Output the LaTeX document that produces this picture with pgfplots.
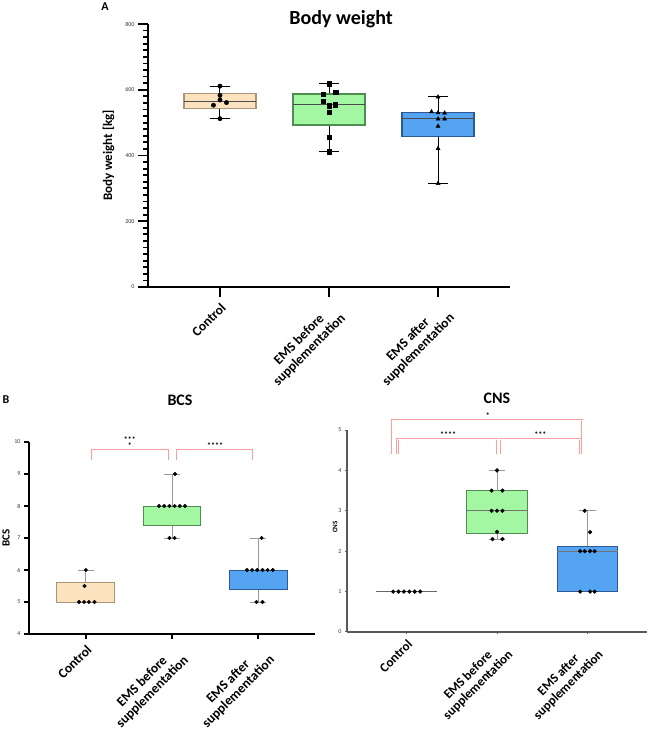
\documentclass[border=0pt]{standalone}
\usepackage{fontspec}
\setmainfont{Carlito}
\usepackage{pgfplots}
\pgfplotsset{compat=1.18}
\usepgfplotslibrary{statistics}

\definecolor{peach}{HTML}{FDE2C0}
\definecolor{peachdark}{HTML}{A89478}
\definecolor{mint}{HTML}{A3F7A3}
\definecolor{mintdark}{HTML}{4E8E4E}
\definecolor{sky}{HTML}{55A4F2}
\definecolor{skydark}{HTML}{2A5A98}
\definecolor{sig}{HTML}{FF9C9C}

\pgfplotsset{
  panel/.style={
    scale only axis, clip=false,
    boxplot/draw direction=y,
    axis x line=bottom, axis y line=left,
    xmin=-0.66, xmax=2.66,
    xtick={0,1,2},
    xticklabels={Control,{EMS before\\supplementation},{EMS after\\supplementation}},
    x tick label style={rotate=45, anchor=north east, align=center,
      font=\fontsize{13.5}{14.5}\selectfont\bfseries},
    tick align=outside,
    /pgf/number format/assume math mode=true,
    y tick label style={font=\fontsize{6}{6}\selectfont, text=black!80},
    ylabel style={font=\fontsize{13}{13}\selectfont\bfseries, anchor=center},
  },
}

\begin{document}
\begin{tikzpicture}
\useasboundingbox (0pt,0pt) rectangle (649pt,735pt);

% ---------------- A: body weight
\node[font=\fontsize{12}{12}\selectfont\bfseries] at (105pt,728pt) {A};
\node[font=\fontsize{20}{20}\selectfont\bfseries] at (341pt,716pt) {Body weight};
\begin{axis}[panel,
  at={(148pt,448pt)}, anchor=south west,
  width=362pt, height=263pt,
  ymin=0, ymax=800,
  ytick={0,200,400,600,800}, minor y tick num=9,
  axis line style={-, line width=2.6pt},
  major tick length=10pt, minor tick length=5pt,
  tick style={black, line width=1.8pt},
  ylabel={Body weight [kg]},
  ylabel style={at={(axis description cs:-0.109,0.5)}},
]
\addplot[boxplot prepared={draw position=0, lower whisker=512, lower quartile=543,
  median=565, upper quartile=588, upper whisker=611, box extend=0.66, whisker extend=0.18,
  every whisker/.style={black, line width=1pt}, every median/.style={black!70, line width=1.2pt}},
  draw=peachdark, fill=peach, line width=1.2pt] coordinates {};
\addplot[boxplot prepared={draw position=1, lower whisker=411, lower quartile=493,
  median=556, upper quartile=587, upper whisker=619, box extend=0.66, whisker extend=0.18,
  every whisker/.style={black, line width=1pt}, every median/.style={black!70, line width=1.2pt}},
  draw=mintdark, fill=mint, line width=1.2pt] coordinates {};
\addplot[boxplot prepared={draw position=2, lower whisker=315, lower quartile=457,
  median=512, upper quartile=531, upper whisker=578, box extend=0.66, whisker extend=0.18,
  every whisker/.style={black, line width=1pt}, every median/.style={black!70, line width=1.2pt}},
  draw=skydark, fill=sky, line width=1.2pt] coordinates {};
\addplot[only marks, mark=*, mark size=2.2pt, black] coordinates {
  (0,611) (0,583) (0,569) (0.06,561) (-0.06,553) (0,512)};
\addplot[only marks, mark=square*, mark size=2.2pt, black] coordinates {
  (1,619) (0.945,587) (1.06,592) (0.945,566) (1,551) (1.055,555) (1,531) (1,455) (1,411)};
\addplot[only marks, mark=triangle*, mark size=2.4pt, black] coordinates {
  (2,578) (1.94,533) (2,530) (2.06,529) (2,511) (2.06,511) (2,489) (2,421) (2,315)};
\end{axis}

% ---------------- B: BCS
\node[font=\fontsize{12}{12}\selectfont\bfseries] at (6pt,335pt) {B};
\node[font=\fontsize{16}{16}\selectfont\bfseries] at (180pt,335pt) {BCS};
\begin{axis}[panel,
  at={(29pt,101pt)}, anchor=south west,
  width=286pt, height=192pt,
  ymin=4, ymax=10, ytick={4,5,6,7,8,9,10},
  axis line style={-, line width=1.8pt},
  major tick length=5pt,
  tick style={black, line width=1.4pt},
  ylabel={BCS},
  ylabel style={at={(axis description cs:-0.08,0.5)}, font=\fontsize{11}{11}\selectfont\bfseries},
]
\addplot[boxplot prepared={draw position=0, lower whisker=5, lower quartile=5,
  median=5, upper quartile=5.62, upper whisker=6, box extend=0.67, whisker extend=0.18,
  every whisker/.style={black!40, line width=0.9pt}, every median/.style={peachdark, line width=1pt}},
  draw=peachdark, fill=peach, line width=1pt] coordinates {};
\addplot[boxplot prepared={draw position=1, lower whisker=7, lower quartile=7.38,
  median=8, upper quartile=8, upper whisker=9, box extend=0.67, whisker extend=0.18,
  every whisker/.style={black!40, line width=0.9pt}, every median/.style={mintdark, line width=1pt}},
  draw=mintdark, fill=mint, line width=1pt] coordinates {};
\addplot[boxplot prepared={draw position=2, lower whisker=5, lower quartile=5.38,
  median=6, upper quartile=6, upper whisker=7, box extend=0.67, whisker extend=0.18,
  every whisker/.style={black!40, line width=0.9pt}, every median/.style={skydark, line width=1pt}},
  draw=skydark, fill=sky, line width=1pt] coordinates {};
\addplot[only marks, mark=*, mark size=1.8pt, black] coordinates {
  (-0.08,5) (-0.02,5) (0.035,5) (0.1,5) (-0.015,5.5) (0,6)
  (1.035,9) (0.85,8) (0.91,8) (0.97,8) (1.03,8) (1.09,8) (1.15,8) (0.97,7) (1.03,7)
  (2.04,7) (1.87,6) (1.93,6) (1.99,6) (2.05,6) (2.11,6) (2.17,6) (1.98,5) (2.05,5)};
\draw[sig, line width=1pt] (axis cs:0.07,9.44) -- (axis cs:0.07,9.78) -- (axis cs:0.965,9.78) -- (axis cs:0.965,9.44);
\draw[sig, line width=1pt] (axis cs:1.05,9.44) -- (axis cs:1.05,9.78) -- (axis cs:1.94,9.78) -- (axis cs:1.94,9.44);
\node[font=\fontsize{8}{8}\selectfont\bfseries, inner sep=0pt] at (axis cs:0.51,10.08) {***};
\node[font=\fontsize{8}{8}\selectfont\bfseries, inner sep=0pt] at (axis cs:0.51,9.9) {*};
\node[font=\fontsize{8}{8}\selectfont\bfseries, inner sep=0pt] at (axis cs:1.5,9.9) {****};
\end{axis}

% ---------------- B: CNS
\node[font=\fontsize{16}{16}\selectfont\bfseries] at (497pt,337pt) {CNS};
\begin{axis}[panel,
  at={(347pt,103pt)}, anchor=south west,
  width=300pt, height=202pt,
  ymin=0, ymax=5, ytick={0,1,2,3,4,5},
  axis line style={-, line width=1.4pt, black!65},
  major tick length=2pt,
  tick style={black!65, line width=1pt},
  ylabel={CNS},
  ylabel style={at={(axis description cs:-0.04,0.52)}, font=\fontsize{7}{7}\selectfont\bfseries},
  x tick label style={font=\fontsize{13}{14}\selectfont\bfseries},
]
\addplot[boxplot prepared={draw position=0, lower whisker=1, lower quartile=1,
  median=1, upper quartile=1, upper whisker=1, box extend=0.67, whisker extend=0.18,
  every whisker/.style={black!40, line width=0.9pt}, every median/.style={black!60, line width=1pt}},
  draw=black!60, fill=peach, line width=1pt] coordinates {};
\addplot[boxplot prepared={draw position=1, lower whisker=2.3, lower quartile=2.45,
  median=3, upper quartile=3.5, upper whisker=4, box extend=0.67, whisker extend=0.18,
  every whisker/.style={black!40, line width=0.9pt}, every median/.style={black!55, line width=1pt}},
  draw=mintdark, fill=mint, line width=1pt] coordinates {};
\addplot[boxplot prepared={draw position=2, lower whisker=1, lower quartile=1,
  median=2, upper quartile=2.12, upper whisker=3, box extend=0.67, whisker extend=0.18,
  every whisker/.style={black!40, line width=0.9pt}, every median/.style={black!55, line width=1pt}},
  draw=skydark, fill=sky, line width=1pt] coordinates {};
\addplot[only marks, mark=*, mark size=1.9pt, black] coordinates {
  (-0.15,1) (-0.09,1) (-0.03,1) (0.03,1) (0.09,1) (0.15,1)
  (1,4) (0.94,3.5) (1.06,3.5) (0.94,3) (1,3) (1.06,3) (1,2.48) (0.95,2.3) (1.06,2.3)
  (1.97,3) (2.03,2.47) (1.92,2) (1.97,2) (2.03,2) (2.08,2) (1.92,1) (2.03,1) (2.08,1)};
\draw[sig, line width=0.9pt, double=white, double distance=0.5pt]
  (axis cs:-0.16,4.40) -- (axis cs:-0.16,5.24) -- (axis cs:1.94,5.24) -- (axis cs:1.94,4.40);
\draw[sig, line width=0.9pt, double=white, double distance=0.5pt]
  (axis cs:-0.10,4.40) -- (axis cs:-0.10,4.77) -- (axis cs:1.00,4.77) -- (axis cs:1.00,4.40);
\draw[sig, line width=0.9pt, double=white, double distance=0.5pt]
  (axis cs:1.03,4.40) -- (axis cs:1.03,4.77) -- (axis cs:1.92,4.77) -- (axis cs:1.92,4.40);
\node[font=\fontsize{8}{8}\selectfont\bfseries, inner sep=0pt] at (axis cs:0.9,5.36) {*};
\node[font=\fontsize{8}{8}\selectfont\bfseries, inner sep=0pt] at (axis cs:0.46,4.88) {****};
\node[font=\fontsize{8}{8}\selectfont\bfseries, inner sep=0pt] at (axis cs:1.48,4.88) {***};
\end{axis}
\end{tikzpicture}
\end{document}
